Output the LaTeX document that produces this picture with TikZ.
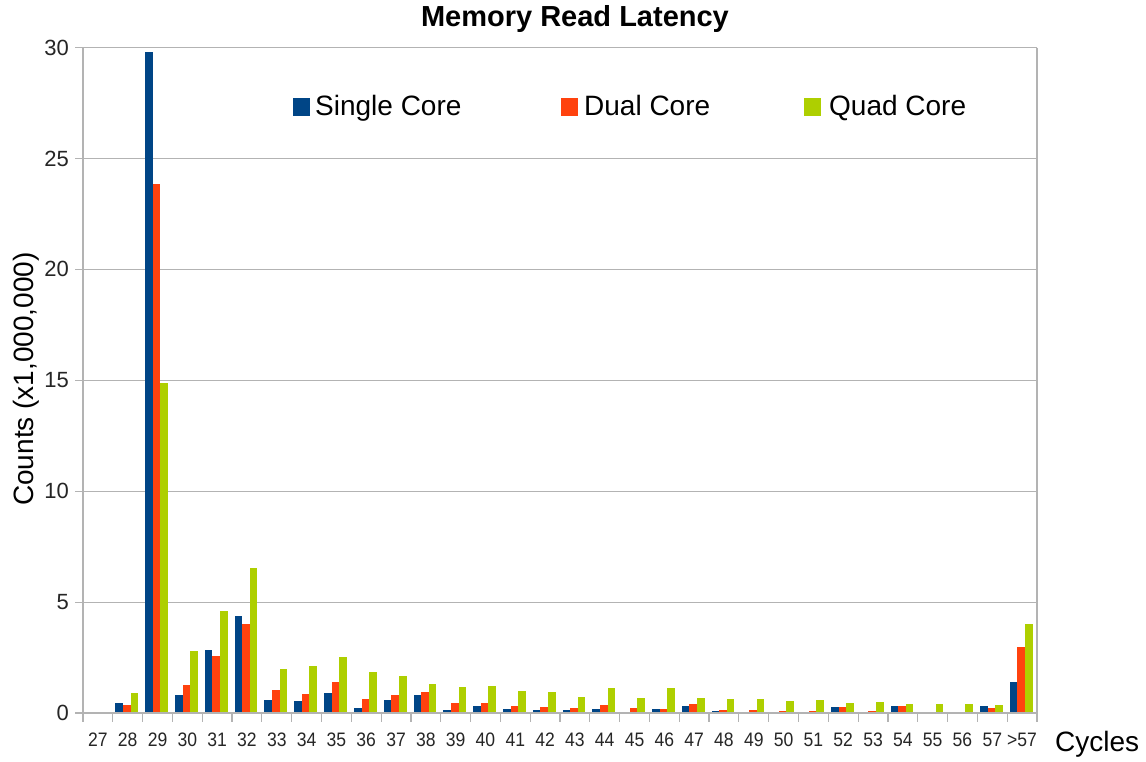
\documentclass[tikz,border=0pt]{standalone}
\usepackage{fontspec}
\setmainfont{Liberation Sans}
\definecolor{single}{HTML}{004586}
\definecolor{dual}{HTML}{FF420E}
\definecolor{quad}{HTML}{AECF00}
\definecolor{gridgray}{HTML}{B3B3B3}
\tikzset{
  gridline/.style={draw=gridgray, line width=1.2pt},
  axisline/.style={draw=gridgray, line width=1.2pt},
  ticklab/.style={font=\fontsize{22}{24}\selectfont, text=black!85, inner sep=0pt},
  catlab/.style={font=\fontsize{19.5}{21}\selectfont, text=black!85, inner sep=0pt, anchor=base, xscale=0.9},
  legendtxt/.style={font=\fontsize{28}{30}\selectfont, inner sep=0pt, anchor=base west},
  titletxt/.style={font=\fontsize{29}{31}\selectfont\bfseries, inner sep=0pt, anchor=base},
  axistitle/.style={font=\fontsize{28}{30}\selectfont, inner sep=0pt},
}
\begin{document}
\begin{tikzpicture}[x=1pt, y=-1pt]
\useasboundingbox[fill=white] (0,0) rectangle (1146,762);
% plot frame: left edge 83, right edge 1037, zero line 713, 22.18 px per million
\def\pl{83}\def\pr{1037}\def\pz{713}\def\pu{22.18}\def\cw{29.8125}
% horizontal grid with short ticks left of the axis
\foreach \v in {0,5,...,30}{
  \draw[gridline] (75,{\pz-\v*\pu}) -- (\pr,{\pz-\v*\pu});
  \node[ticklab, anchor=east] (ytick\v) at (69,{\pz-\v*\pu}) {\v};
}
% bars: category index / single / dual / quad
\foreach \i/\a/\b/\c in {
 1/0.43/0.36/0.92, 2/29.8/23.86/14.88, 3/0.83/1.26/2.81, 4/2.83/2.59/4.6,
 5/4.39/4.01/6.54, 6/0.59/1.02/2.0, 7/0.54/0.84/2.12, 8/0.89/1.38/2.54,
 9/0.21/0.62/1.86, 10/0.59/0.81/1.65, 11/0.81/0.96/1.31, 12/0.14/0.47/1.16,
 13/0.33/0.46/1.22, 14/0.2/0.33/1.0, 15/0.12/0.26/0.93, 16/0.12/0.24/0.74,
 17/0.2/0.35/1.11, 18/0.02/0.24/0.68, 19/0.18/0.18/1.11, 20/0.33/0.39/0.68,
 21/0.07/0.14/0.62, 22/0.03/0.14/0.64, 23/0.01/0.1/0.54, 24/0.03/0.1/0.59,
 25/0.29/0.29/0.47, 26/0.01/0.07/0.5, 27/0.32/0.32/0.39, 28/0.01/0.05/0.42,
 29/0.01/0.05/0.39, 30/0.32/0.23/0.36, 31/1.38/2.96/4.01}{
  \pgfmathsetmacro\bx{\pl+\i*\cw+2.6}
  \fill[single] (\bx,\pz) rectangle ++(7.6,{-\a*\pu});
  \fill[dual]   ({\bx+7.6},\pz) rectangle ++(7.6,{-\b*\pu});
  \fill[quad]   ({\bx+15.2},\pz) rectangle ++(7.6,{-\c*\pu});
}
% axes and right border
\draw[axisline] (\pl,47.7) -- (\pl,722);
\draw[axisline] (\pr,47.7) -- (\pr,722);
\draw[axisline] (\pl,\pz) -- (\pr,\pz);
\foreach \k in {1,...,31}{
  \draw[axisline] ({\pl+\k*\cw},\pz) -- ++(0,9);
}
% category labels
\foreach \i/\t in {0/27,1/28,2/29,3/30,4/31,5/32,6/33,7/34,8/35,9/36,10/37,
  11/38,12/39,13/40,14/41,15/42,16/43,17/44,18/45,19/46,20/47,21/48,22/49,
  23/50,24/51,25/52,26/53,27/54,28/55,29/56,30/57,31/{>57}}{
  \node[catlab] (cat\i) at ({\pl+(\i+0.5)*\cw},746) {\t};
}
% titles
\node[titletxt] (title) at (575,27) {Memory Read Latency};
\node[axistitle, anchor=base west] (xtitle) at (1055,751) {Cycles};
\node[axistitle, rotate=90, anchor=base] (ytitle) at (34,379) {Counts (x1,000,000)};
% legend
\fill[single] (293,98) rectangle (310,116);
\node[legendtxt] (lsingle) at (315,116) {Single Core};
\fill[dual] (561,98) rectangle (578,116);
\node[legendtxt] (ldual) at (584,116) {Dual Core};
\fill[quad] (804,98) rectangle (821,116);
\node[legendtxt] (lquad) at (829,116) {Quad Core};
\end{tikzpicture}
\end{document}
